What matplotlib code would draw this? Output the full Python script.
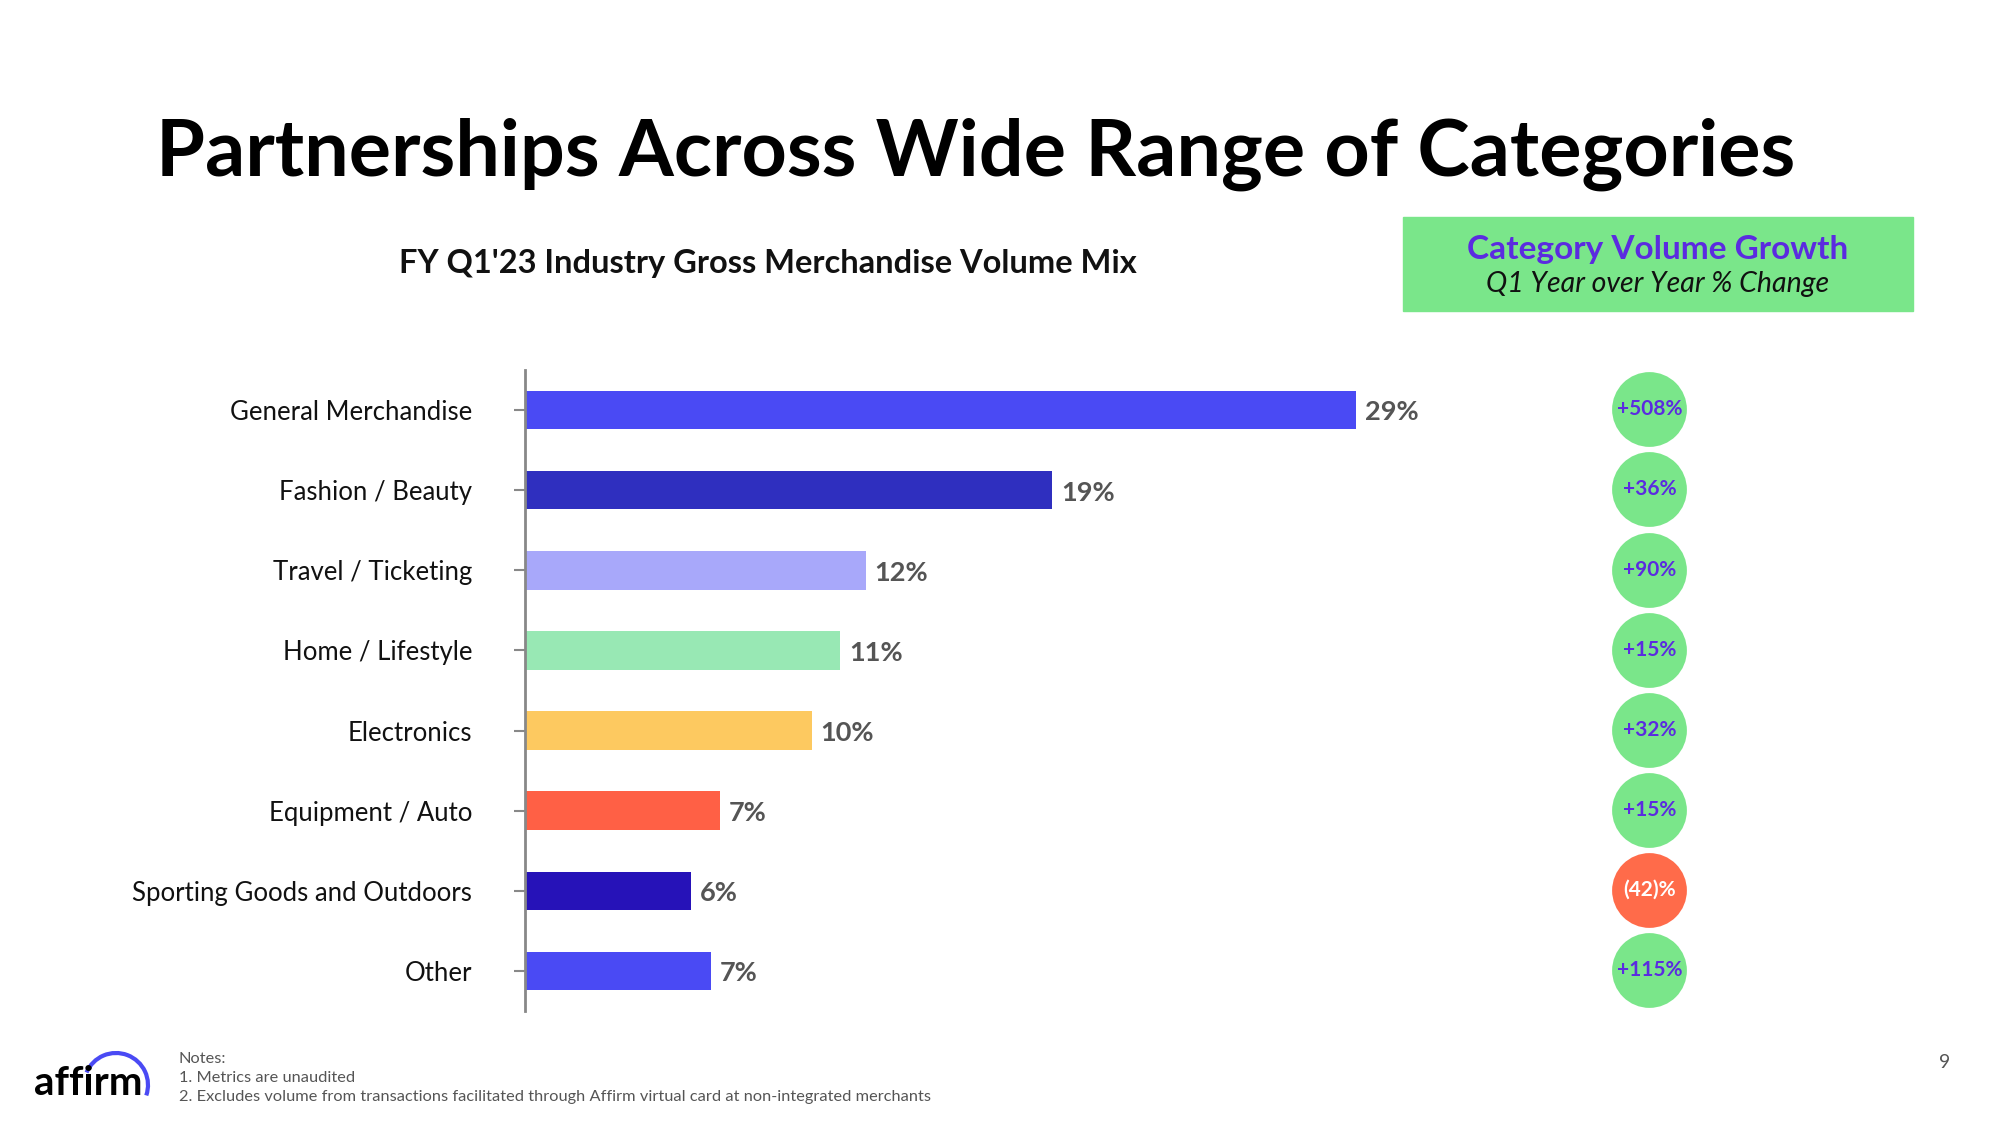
import matplotlib.pyplot as plt
from matplotlib.patches import Rectangle, Arc
from matplotlib.transforms import ScaledTranslation

plt.rcParams['font.family'] = ['Lato', 'DejaVu Sans']

categories = ["General Merchandise", "Fashion / Beauty", "Travel / Ticketing",
              "Home / Lifestyle", "Electronics", "Equipment / Auto",
              "Sporting Goods and Outdoors", "Other"]
# bar lengths (share of GMV, %)
mix = [29.0, 18.4, 11.9, 11.0, 10.0, 6.8, 5.8, 6.5]
mix_labels = ["29%", "19%", "12%", "11%", "10%", "7%", "6%", "7%"]
growth_labels = ["+508%", "+36%", "+90%", "+15%", "+32%", "+15%", "(42)%", "+115%"]
growth_negative = [False, False, False, False, False, False, True, False]

bar_colors = ["#4a4af4", "#2f2fbf", "#a8a8fa", "#98e8b4",
              "#fdc960", "#ff6045", "#2612b8", "#4a4af4"]
green = "#7ae68a"
purple = "#5b2be0"

fig = plt.figure(figsize=(20, 11.25), dpi=100)

fig.text(0.488, 1 - 154 / 1125, "Partnerships Across Wide Range of Categories",
         ha="center", va="center", fontsize=57, fontweight="bold", color="#000000")
fig.text(0.384, 1 - 264 / 1125, "FY Q1'23 Industry Gross Merchandise Volume Mix",
         ha="center", va="center", fontsize=23.5, fontweight="bold", color="#111111")

# header box on the right
fig.add_artist(Rectangle((1403 / 2000, 1 - 311 / 1125), 510 / 2000, 94 / 1125,
                         transform=fig.transFigure, color=green, zorder=0))
fig.text(0.829, 1 - 249 / 1125, "Category Volume Growth", ha="center", va="center",
         fontsize=24, fontweight="bold", color=purple)
fig.text(0.829, 1 - 284 / 1125, "Q1 Year over Year % Change", ha="center", va="center",
         fontsize=20.5, style="italic", color="#111111")

ax = fig.add_axes([0.2625, 1 - 1011 / 1125, 0.5875, (1011 - 370) / 1125])
y = list(range(len(categories)))
ax.barh(y, mix, height=0.48, color=bar_colors)
ax.set_xlim(0, 41)
ax.set_ylim(len(categories) - 0.5, -0.5)
ax.set_yticks(y)
ax.set_yticklabels(categories, fontsize=18.5, color="#111111")
lift = ScaledTranslation(0, 0.05, fig.dpi_scale_trans)
for t in ax.get_yticklabels():
    t.set_transform(t.get_transform() + lift)
ax.tick_params(axis="y", length=8, width=1.5, color="#888888", pad=30)
ax.set_xticks([])
for s in ["top", "right", "bottom"]:
    ax.spines[s].set_visible(False)
ax.spines["left"].set_color("#888888")
ax.spines["left"].set_linewidth(2)

for yi, v, lab in zip(y, mix, mix_labels):
    ax.text(v + 0.3, yi + 0.03, lab, ha="left", va="center", fontsize=19.5,
            fontweight="bold", color="#555555")

# growth bubbles
tr = ax.get_yaxis_transform()
for yi, lab, neg in zip(y, growth_labels, growth_negative):
    ax.scatter([0.957], [yi - 0.01], s=2900, color="#ff6b4a" if neg else green,
               transform=tr, clip_on=False, zorder=3, linewidths=0)
    ax.text(0.957, yi - 0.01, lab, transform=tr, ha="center", va="center", fontsize=15,
            fontweight="bold", color="white" if neg else purple, zorder=4)

# footer
fig.text(179 / 2000, 1 - 1059 / 1125, "Notes:", ha="left", va="center",
         fontsize=11.8, color="#555555")
fig.text(179 / 2000, 1 - 1078 / 1125, "1. Metrics are unaudited", ha="left", va="center",
         fontsize=11.8, color="#555555")
fig.text(179 / 2000, 1 - 1097 / 1125,
         "2. Excludes volume from transactions facilitated through Affirm virtual card at non-integrated merchants",
         ha="left", va="center", fontsize=11.8, color="#555555")
fig.text(1945 / 2000, 1 - 1063 / 1125, "9", ha="center", va="center",
         fontsize=14, color="#555555")

fig.text(34 / 2000, 1 - 1095 / 1125, "affirm", ha="left", va="baseline",
         fontsize=29, fontweight="bold", color="#000000")
fig.add_artist(Arc((1.16, 0.40), 0.64, 0.64, theta1=-19, theta2=157,
                   transform=fig.dpi_scale_trans, color="#4a4af4", linewidth=3))

fig.savefig("out.png", dpi=100, facecolor="white")
